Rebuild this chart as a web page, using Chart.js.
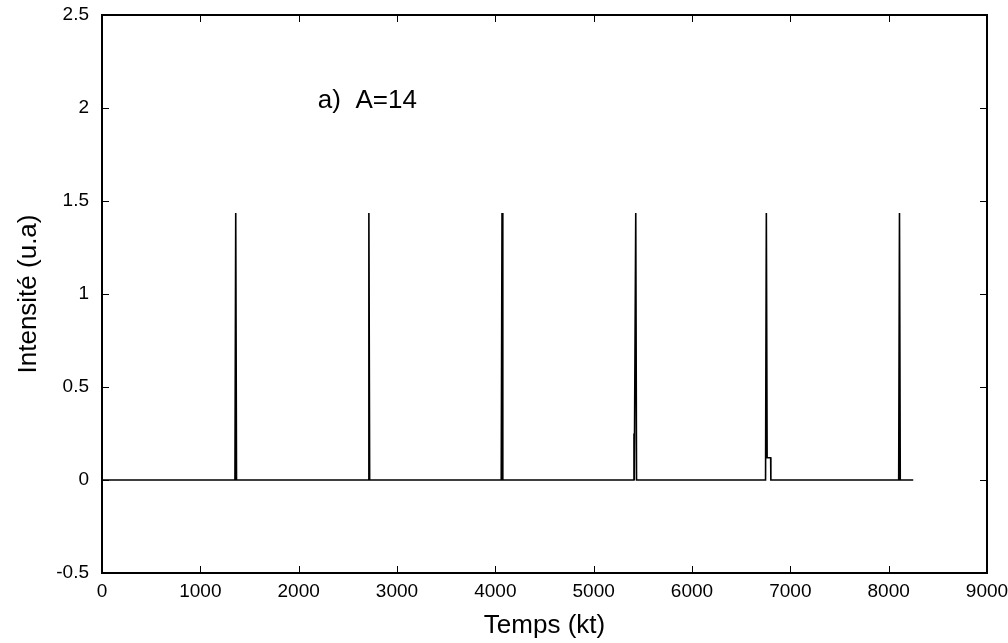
<!DOCTYPE html>
<html>
<head>
<meta charset="utf-8">
<script src="https://cdn.jsdelivr.net/npm/chart.js@4.4.0/dist/chart.umd.min.js"></script>
<style>
  html, body { margin: 0; padding: 0; background: #fff; }
  #wrap { width: 1008px; height: 643px; }
</style>
</head>
<body>
<div id="wrap"><canvas id="myChart"></canvas></div>
<script>
// values
const temps = [0, 1352, 1360, 1368, 2706, 2714, 2722, 4060, 4068, 4076,
    5405, 5410, 5413, 5420, 5428, 5436, 6748, 6756, 6764, 6766, 6800, 6802,
    8102, 8110, 8118, 8250];
const intensite = [0, 0, 1.435, 0, 0, 1.435, 0, 0, 1.435, 0,
    0, 0.25, 0, 0, 1.435, 0, 0, 1.435, 0.12, 0.12, 0.12, 0,
    0, 1.435, 0, 0];
const xTicks = [0, 1000, 2000, 3000, 4000, 5000, 6000, 7000, 8000, 9000];
const yTicks = [-0.5, 0, 0.5, 1, 1.5, 2, 2.5];
const label = 'a)  A=14';
const labelPos = [2195, 2.0];

const points = temps.map(function (t, i) { return { x: t, y: intensite[i] }; });
const fam = '"Liberation Sans", Arial, sans-serif';

// box + inward ticks, like the original plot
const frame = {
    id: 'frame',
    afterDraw(chart) {
        const { ctx, chartArea: { top, right, bottom, left } } = chart;
        const xs = chart.scales.x, ys = chart.scales.y;
        ctx.save();
        ctx.strokeStyle = '#000';
        ctx.lineWidth = 1;
        xTicks.forEach(function (v) {
            const px = Math.round(xs.getPixelForValue(v)) + 0.5;
            ctx.beginPath();
            ctx.moveTo(px, bottom); ctx.lineTo(px, bottom - 7);
            ctx.moveTo(px, top); ctx.lineTo(px, top + 7);
            ctx.stroke();
        });
        yTicks.forEach(function (v) {
            const py = Math.round(ys.getPixelForValue(v)) + 0.5;
            ctx.beginPath();
            ctx.moveTo(left, py); ctx.lineTo(left + 7, py);
            ctx.moveTo(right, py); ctx.lineTo(right - 7, py);
            ctx.stroke();
        });
        ctx.lineWidth = 2;
        ctx.strokeRect(left, top, right - left, bottom - top);
        // annotation
        ctx.fillStyle = '#000';
        ctx.font = '26px ' + fam;
        ctx.textBaseline = 'alphabetic';
        ctx.textAlign = 'left';
        ctx.fillText(label, xs.getPixelForValue(labelPos[0]), ys.getPixelForValue(labelPos[1]));
        ctx.restore();
    }
};

const ctx = document.getElementById('myChart').getContext('2d');
const myChart = new Chart(ctx, {
    type: 'line',
    data: {
        datasets: [{
            data: points,
            borderColor: '#000',
            borderWidth: 1.6,
            pointRadius: 0,
            tension: 0,
            fill: false
        }]
    },
    options: {
        responsive: true,
        maintainAspectRatio: false,
        animation: false,
        layout: { padding: { left: 0, right: 21, top: 15, bottom: 0 } },
        plugins: {
            legend: { display: false },
            tooltip: { enabled: false }
        },
        scales: {
            x: {
                type: 'linear',
                min: 0,
                max: 9000,
                afterBuildTicks: function (axis) {
                    axis.ticks = xTicks.map(function (v) { return { value: v }; });
                },
                afterFit: function (axis) {
                    axis.height = 70;
                    axis.paddingLeft = 0;
                    axis.paddingRight = 0;
                },
                grid: { display: false, drawTicks: false },
                border: { display: false },
                ticks: {
                    color: '#000',
                    padding: 7,
                    maxRotation: 0,
                    font: { family: fam, size: 19 },
                    callback: function (v) { return String(v); }
                },
                title: {
                    display: true,
                    text: 'Temps (kt)',
                    color: '#000',
                    padding: { top: 0, bottom: 2 },
                    font: { family: fam, size: 26 }
                }
            },
            y: {
                type: 'linear',
                min: -0.5,
                max: 2.5,
                afterBuildTicks: function (axis) {
                    axis.ticks = yTicks.map(function (v) { return { value: v }; });
                },
                afterFit: function (axis) {
                    axis.width = 102;
                    axis.paddingTop = 0;
                    axis.paddingBottom = 0;
                },
                grid: { display: false, drawTicks: false },
                border: { display: false },
                ticks: {
                    color: '#000',
                    padding: 13,
                    font: { family: fam, size: 19 },
                    callback: function (v) { return String(v); }
                },
                title: {
                    display: true,
                    text: 'Intensité (u.a)',
                    color: '#000',
                    padding: { top: 13, bottom: 0 },
                    font: { family: fam, size: 26 }
                }
            }
        }
    },
    plugins: [frame]
});
</script>
</body>
</html>
